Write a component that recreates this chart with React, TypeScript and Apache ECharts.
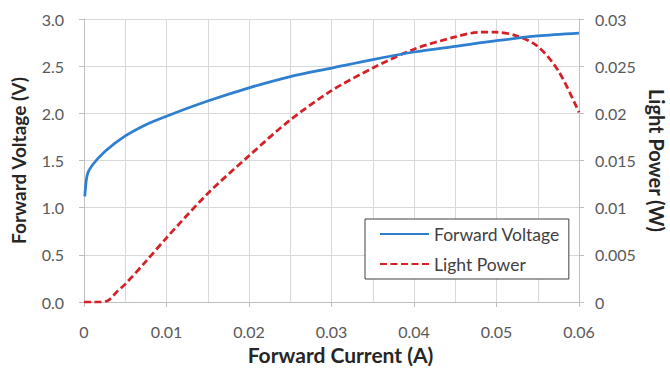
import React, { useEffect, useRef } from "react";
import * as echarts from "echarts";

const voltageCurrent = [0.0001, 0.0004, 0.001, 0.0026, 0.005, 0.0075, 0.01, 0.015, 0.02, 0.025, 0.03, 0.035, 0.04, 0.045, 0.05, 0.055, 0.06];
const forwardVoltage = [1.12, 1.35, 1.45, 1.6, 1.76, 1.88, 1.97, 2.13, 2.27, 2.39, 2.48, 2.57, 2.65, 2.71, 2.77, 2.82, 2.85];

const powerCurrent = [0, 0.001, 0.002, 0.003, 0.004, 0.005, 0.0075, 0.01, 0.015, 0.02, 0.025, 0.03, 0.035, 0.04, 0.045, 0.048, 0.05, 0.0525, 0.055, 0.0575, 0.06];
const lightPower = [0, 0, 0, 0.0002, 0.0011, 0.0019, 0.0043, 0.0068, 0.0115, 0.0155, 0.0193, 0.0224, 0.0248, 0.0268, 0.0281, 0.0286, 0.0286, 0.0282, 0.0271, 0.0245, 0.0201];

const seriesNames = ["Forward Voltage", "Light Power"];
const xTitle = "Forward Current (A)";
const yLeftTitle = "Forward Voltage (V)";
const yRightTitle = "Light Power (W)";

const FONT = "Lato, 'Liberation Sans', sans-serif";
const LABEL_COLOR = "#595959";
const TITLE_COLOR = "#262626";
const GRID_COLOR = "#d9d9d9";
const AXIS_COLOR = "#bfbfbf";

export default function App() {
  const ref = useRef<HTMLDivElement>(null);
  useEffect(() => {
    if (!ref.current) return;
    const chart = echarts.init(ref.current, undefined, { renderer: "svg" });
    const labelStyle = { color: LABEL_COLOR, fontSize: 16, fontFamily: FONT };
    const titleStyle = { color: TITLE_COLOR, fontWeight: "bold" as const, fontFamily: FONT };
    chart.setOption({
      animation: false,
      backgroundColor: "#ffffff",
      textStyle: { fontFamily: FONT },
      grid: { left: 84, right: 91, top: 19, bottom: 66, containLabel: false, outerBoundsMode: "none" },
      legend: {
        orient: "vertical",
        left: 365,
        top: 219,
        data: seriesNames,
        backgroundColor: "#ffffff",
        borderColor: "#404040",
        borderWidth: 1,
        padding: [6, 9, 6, 14],
        itemGap: 12,
        itemWidth: 49,
        itemHeight: 14,
        itemStyle: { opacity: 0 },
        textStyle: { color: "#404040", fontSize: 17.5, fontFamily: FONT },
      },
      xAxis: {
        type: "value",
        min: 0,
        max: 0.06,
        interval: 0.01,
        name: xTitle,
        nameLocation: "middle",
        nameGap: 42,
        nameTextStyle: { ...titleStyle, fontSize: 21, padding: [0, 0, 0, 18] },
        axisLine: { show: true, lineStyle: { color: AXIS_COLOR, width: 1 } },
        axisTick: { show: true, length: 5, lineStyle: { color: AXIS_COLOR } },
        axisLabel: { ...labelStyle, margin: 21 },
        splitLine: { show: true, lineStyle: { color: GRID_COLOR, width: 1 } },
        minorTick: { show: false, splitNumber: 2 },
        minorSplitLine: { show: true, lineStyle: { color: GRID_COLOR, width: 1 } },
      },
      yAxis: [
        {
          type: "value",
          min: 0,
          max: 3,
          interval: 0.5,
          name: yLeftTitle,
          nameLocation: "middle",
          nameGap: 56,
          nameRotate: 90,
          nameTextStyle: { ...titleStyle, fontSize: 19 },
          axisLine: { show: true, lineStyle: { color: AXIS_COLOR, width: 1 } },
          axisTick: { show: true, length: 5, lineStyle: { color: AXIS_COLOR } },
          axisLabel: { ...labelStyle, margin: 20, formatter: (v: number) => v.toFixed(1) },
          splitLine: { show: true, lineStyle: { color: GRID_COLOR, width: 1 } },
        },
        {
          type: "value",
          min: 0,
          max: 0.03,
          interval: 0.005,
          position: "right",
          name: yRightTitle,
          nameLocation: "middle",
          nameGap: 66,
          nameRotate: -90,
          nameTextStyle: { ...titleStyle, fontSize: 20 },
          axisLine: { show: true, lineStyle: { color: AXIS_COLOR, width: 1 } },
          axisTick: { show: true, length: 5, lineStyle: { color: AXIS_COLOR } },
          axisLabel: { ...labelStyle, margin: 16 },
          splitLine: { show: false },
        },
      ],
      series: [
        {
          name: seriesNames[0],
          type: "line",
          yAxisIndex: 0,
          data: voltageCurrent.map((c, i) => [c, forwardVoltage[i]]),
          showSymbol: false,
          symbol: "none",
          smooth: 0.3,
          lineStyle: { color: "#2e7fcf", width: 2.75 },
          itemStyle: { color: "#2e7fcf" },
          z: 3,
        },
        {
          name: seriesNames[1],
          type: "line",
          yAxisIndex: 1,
          data: powerCurrent.map((c, i) => [c, lightPower[i]]),
          showSymbol: false,
          symbol: "none",
          smooth: 0.3,
          lineStyle: { color: "#d42026", width: 2.75, type: [7, 3.5] },
          itemStyle: { color: "#d42026" },
          z: 2,
        },
      ],
    });
    return () => chart.dispose();
  }, []);
  return (
    <div
      ref={ref}
      style={{ position: "fixed", left: 0, top: 0, width: 670, height: 368 }}
    />
  );
}
